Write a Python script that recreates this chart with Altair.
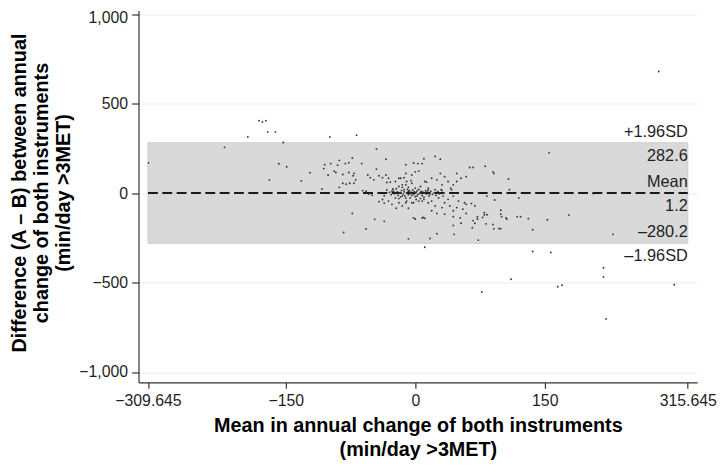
import altair as alt
import pandas as pd

FONT = "Liberation Sans"

# Mean of both instruments (x) and difference A-B (y)
mean_x = [
    -309, -221, -194, -181, -177, -173, -171, -162, -153, -158, -149, -169, -132, -122,
    -99, -68, -108, -105, -98, -90, -88, -81, -77, -73, -62, -101, -92, -84, -77, -72,
    -71, -84, -80, -76, -88, -69, -61, -57, -73, -83, -57, -94, -106, -71,
    -55, -52, -48, -45, -42, -38, -34, -31, -33, -29, -23, -19, -13, -11, -4, 0, 4, 8,
    6, -5, -15, -11, -22, -27, -45, -54, -50, -34,
    23, 29, 10, 3, -2, -11,
    -42, -38, -31, -27, -23, -19, -15, -10, -4, 1, 8, -8, -22, -2, 9, -36, -47, -36, -8,
    -17, -10, -4, 11, 19, 25, 31, 34, 38, 44, 48, 53, 59, 48, 42, 31, 23, 15, 0, -8, -15,
    29, 13, 41,
    -19, -13, -8, 0, 6, 11, 17, -15, -6, 2, 10, 19, 27, 32, 38, 44, 50, 34, 23, 15, 4, -2,
    -11, 31, 40, 48, 55, 59, 69, 19, 8, 0, 25, 34, 44, 52, 59, 67, 72, 53, 44,
    63, 67, 81, 90, 91, 108, 109, 120, 92, 99, 105, 99, 80, 78, 118, 122, 131, 153, 178,
    136, 229, 66, 82, 91, 99, 73, 17, 25, 45, 11, 136, 157, 206, 155,
    83, 65, 57, 69, 72, 80, 83, 90, 97, 100, 106, 44, 111, 77, 11,
    218, 218, 165, 170, 221, 300, 282,
    -30, -28, -25, -24, -21, -20, -18, -17, -16, -14, -13, -12, -10, -9, -8, -7, -6, -5,
    -4, -3, -2, -1, 0, 1, 2, 3, 4, 5, 7, 8, 9, 10, 12, 13, 14, 16, 18, 20, 22, 24, 26, 28,
    -33, -36, -26, -11, 6, 15, -19, 30,
]
diff_y = [
    170, 257, 315, 406, 399, 406, 342, 342, 284, 165, 148, 75, 69, 115,
    315, 325, 24, 160, 166, 157, 184, 166, 171, 197, 166, 102, 116, 105, 116, 98,
    111, 56, 51, 56, 33, 75, 15, 11, -113, -219, -200, 124, 138, 56,
    102, 87, 75, 135, 98, 87, 102, 84, 60, 62, 66, 84, 87, 111, 102, 120, 124, 166,
    38, 71, 33, 47, 25, 11, 248, -4, -11, 190,
    206, 190, 193, 166, 169, 160,
    -47, -35, -44, -62, -26, -53, -71, -44, -53, -35, -44, -84, -84, -138, -135, -55, -146, -157, -255,
    84, 66, 56, 66, 84, 75, 47, 93, 66, 47, 66, 84, 93, 111, 20, 15, 20, 29, 29, 33, 47,
    111, 62, 29,
    38, 20, 11, 2, 5, 2, -4, -16, -26, -16, -34, -44, -26, -16, -34, -16, -44, -53, -71, -53, -44, -53,
    -53, -80, -71, -80, -89, -62, -71, -98, -138, -144, -113, -117, -98, -138, -113, -153, -131, -168, -180,
    144, 144, 151, 120, 111, 80, 20, -26, -38, -95, -138, -117, -108, -135, -131, -131, -142, -148, -122,
    -204, -230, -193, -171, -199, -199, -262, -253, -226, -230, -302, -326, -331, -2, 226,
    -16, -58, -53, -168, -144, -120, -120, -175, -197, -131, -144, -131, -481, -552, -140,
    -417, -468, -523, -514, -703, -512, 681,
    5, -8, 12, -3, 8, -12, 3, -20, 15, -5, 8, -15, 2, 22, -8, 14, -2, 6,
    -12, 18, -5, 9, -18, 4, 13, -7, 21, -1, 10, -12, 6, -22, 14, -4, 8, -15, 10, -6, 3, -12, 9, -3,
    18, -14, 24, -27, -29, 18, -30, 20,
]

# Limits of agreement
range_lo = [-309.645]
range_hi = [315.645]
upper_loa = [282.6]
lower_loa = [-280.2]
mean_diff = [1.2]

x_ticks = [-309.645, -150, 0, 150, 315.645]
y_ticks = [-1000, -500, 0, 500, 1000]

above_text = ["+1.96SD", "Mean", "\u2013280.2"]
above_val = [282.6, 1.2, -280.2]
below_text = ["282.6", "1.2", "\u20131.96SD"]
below_val = [282.6, 1.2, -280.2]

pts = pd.DataFrame({"m": mean_x, "d": diff_y})
band = pd.DataFrame({"x1": range_lo, "x2": range_hi, "lo": lower_loa, "hi": upper_loa})
mline = pd.DataFrame({"x1": range_lo, "x2": range_hi, "y": mean_diff})
above = pd.DataFrame({"x": range_hi * len(above_text), "y": above_val, "t": above_text})
below = pd.DataFrame({"x": range_hi * len(below_text), "y": below_val, "t": below_text})

xs = alt.Scale(domain=[-320.6, 326.6], nice=False, zero=False)
ys = alt.Scale(domain=[-1058, 1022], nice=False, zero=False)

x_axis = alt.Axis(
    values=x_ticks, format=".6~g", grid=False, tickSize=6, labelPadding=4,
    title=["Mean in annual change of both instruments", "(min/day >3MET)"],
    titleY=34, titleBaseline="top", titleLineHeight=24,
)
y_axis = alt.Axis(
    values=y_ticks, format=",.0f", grid=True, gridColor="#e4edef", gridWidth=1,
    tickSize=7, labelPadding=4,
    labelOffset={"condition": {"test": "datum.value == 1000", "value": 3}, "value": 0},
    title=["Difference (A \u2013 B) between annual", "change of both instruments",
           "(min/day >3MET)"],
    titleX=-110, titleY=184, titleAngle=270, titleBaseline="bottom", titleAlign="center",
    titleLineHeight=22,
)

band_layer = alt.Chart(band).mark_rect(color="#d9d9d9", stroke="#cdcdcd", strokeWidth=1).encode(
    x=alt.X("x1:Q", scale=xs, axis=x_axis),
    x2="x2:Q",
    y=alt.Y("lo:Q", scale=ys, axis=y_axis),
    y2="hi:Q",
)

mean_layer = alt.Chart(mline).mark_rule(
    color="#1a1a1a", strokeWidth=2, strokeDash=[10, 4.5]
).encode(
    x=alt.X("x1:Q", scale=xs, axis=x_axis),
    x2="x2:Q",
    y=alt.Y("y:Q", scale=ys, axis=y_axis),
)

pt_layer = alt.Chart(pts).mark_circle(size=3.5, color="#333333", opacity=1).encode(
    x=alt.X("m:Q", scale=xs, axis=x_axis),
    y=alt.Y("d:Q", scale=ys, axis=y_axis),
)

txt_style = dict(align="right", baseline="middle", font=FONT, fontSize=16.5, color="#1e1e1e")
above_layer = alt.Chart(above).mark_text(dy=-11, **txt_style).encode(
    x=alt.X("x:Q", scale=xs, axis=x_axis),
    y=alt.Y("y:Q", scale=ys, axis=y_axis),
    text="t:N",
)
below_layer = alt.Chart(below).mark_text(dy=13, **txt_style).encode(
    x=alt.X("x:Q", scale=xs, axis=x_axis),
    y=alt.Y("y:Q", scale=ys, axis=y_axis),
    text="t:N",
)

chart = alt.layer(band_layer, mean_layer, pt_layer, above_layer, below_layer).properties(
    width=565,
    height=376,
    autosize=alt.AutoSizeParams(type="none"),
    padding={"left": 132, "top": 0, "right": 20, "bottom": 84},
).configure_view(stroke=None).configure_axis(
    labelFont=FONT, labelFontSize=16, labelColor="#1e1e1e",
    titleFont=FONT, titleFontSize=20, titleFontWeight="bold", titleColor="#000000",
    domainColor="#333333", tickColor="#333333", domainWidth=1.2, tickWidth=1.2,
)

chart.save("out.html", embed_options={"renderer": "svg", "actions": False})
